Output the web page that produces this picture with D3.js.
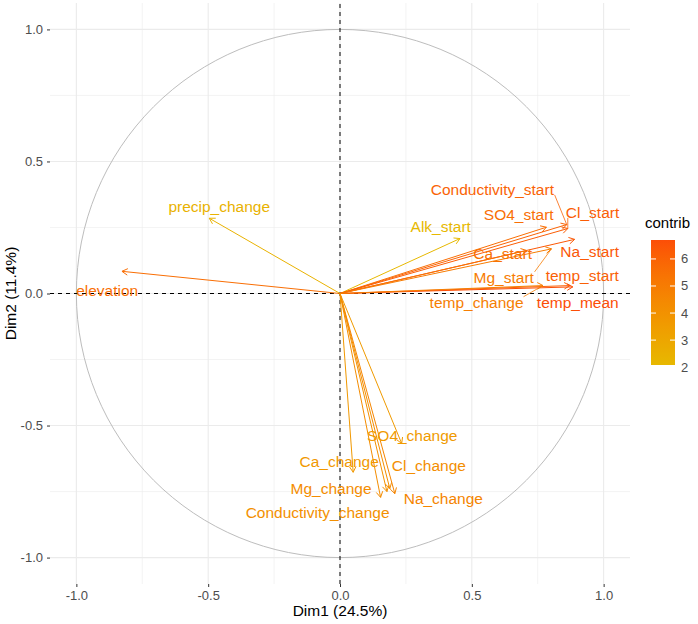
<!DOCTYPE html>
<html>
<head>
<meta charset="utf-8">
<script src="https://cdn.jsdelivr.net/npm/d3@7"></script>
<style>
  body { margin: 0; background: #fff; }
  text { font-family: "Liberation Sans", Arial, sans-serif; }
</style>
</head>
<body>
<div id="chart"></div>
<script>
// variable names, coordinates on Dim1/Dim2 and contribution
const varNames = ["elevation", "precip_change", "Alk_start", "Conductivity_start", "SO4_start",
  "Cl_start", "Na_start", "Ca_start", "Mg_start", "temp_start", "temp_mean", "temp_change",
  "SO4_change", "Ca_change", "Cl_change", "Mg_change", "Na_change", "Conductivity_change"];
const dim1 = [-0.827, -0.496, 0.455, 0.860, 0.783, 0.864, 0.890, 0.708, 0.802, 0.872, 0.883, 0.770,
  0.234, 0.050, 0.189, 0.154, 0.208, 0.178];
const dim2 = [0.084, 0.285, 0.208, 0.261, 0.251, 0.246, 0.205, 0.163, 0.169, 0.030, 0.025, 0.030,
  -0.568, -0.677, -0.739, -0.772, -0.758, -0.750];
const contrib = [5.6, 2.4, 2.08, 6.0, 5.6, 6.2, 6.4, 5.4, 5.0, 6.1, 6.7, 4.9,
  3.6, 3.7, 4.2, 4.3, 4.6, 4.1];
// label positions after repel (in Dim units)
const labelX = [-0.883, -0.458, 0.382, 0.578, 0.678, 0.958, 0.947, 0.617, 0.621, 0.919, 0.902, 0.518,
  0.274, -0.003, 0.337, -0.034, 0.392, -0.085];
const labelY = [0.011, 0.331, 0.255, 0.394, 0.299, 0.307, 0.159, 0.152, 0.061, 0.068, -0.033, -0.033,
  -0.537, -0.636, -0.653, -0.739, -0.777, -0.830];
const withSegment = ["Conductivity_start", "Cl_start", "Mg_start", "temp_change"];

const majorTicks = [-1, -0.5, 0, 0.5, 1];
const minorTicks = [-0.75, -0.25, 0.25, 0.75];
const legendBreaks = [2, 3, 4, 5, 6];

const width = 698, height = 624;
const svg = d3.select("#chart").append("svg")
  .attr("width", width).attr("height", height);

const x = d3.scaleLinear().domain([-1.1, 1.1]).range([50, 630]);
const y = d3.scaleLinear().domain([-1.1, 1.1]).range([584, 3]);
const color = d3.scaleLinear()
  .domain(d3.extent(contrib))
  .range(["#E7B800", "#FC4E07"])
  .interpolate(d3.interpolateLab);

// grid
const grid = svg.append("g");
grid.selectAll(".vmin").data(minorTicks).join("line")
  .attr("x1", d => x(d)).attr("x2", d => x(d)).attr("y1", y.range()[0]).attr("y2", y.range()[1])
  .attr("stroke", "#EBEBEB").attr("stroke-width", 0.6);
grid.selectAll(".hmin").data(minorTicks).join("line")
  .attr("y1", d => y(d)).attr("y2", d => y(d)).attr("x1", x.range()[0]).attr("x2", x.range()[1])
  .attr("stroke", "#EBEBEB").attr("stroke-width", 0.6);
grid.selectAll(".vmaj").data(majorTicks).join("line")
  .attr("x1", d => x(d)).attr("x2", d => x(d)).attr("y1", y.range()[0]).attr("y2", y.range()[1])
  .attr("stroke", "#EBEBEB").attr("stroke-width", 1.1);
grid.selectAll(".hmaj").data(majorTicks).join("line")
  .attr("y1", d => y(d)).attr("y2", d => y(d)).attr("x1", x.range()[0]).attr("x2", x.range()[1])
  .attr("stroke", "#EBEBEB").attr("stroke-width", 1.1);

// axes
const fmt = d => d.toFixed(1);
const xAxis = svg.append("g").attr("transform", `translate(0,${y.range()[0]})`)
  .call(d3.axisBottom(x).tickValues(majorTicks).tickFormat(fmt).tickSize(3).tickPadding(4));
const yAxis = svg.append("g").attr("transform", `translate(${x.range()[0]},0)`)
  .call(d3.axisLeft(y).tickValues(majorTicks).tickFormat(fmt).tickSize(3).tickPadding(4));
[xAxis, yAxis].forEach(a => {
  a.select(".domain").remove();
  a.selectAll(".tick line").attr("stroke", "#333333");
  a.selectAll(".tick text").attr("fill", "#4D4D4D")
    .style("font-size", "13px").style("font-family", "'Liberation Sans', Arial, sans-serif");
});

svg.append("text").attr("x", x(0)).attr("y", 616).attr("text-anchor", "middle")
  .style("font-size", "15.5px").attr("fill", "#000").text("Dim1 (24.5%)");
svg.append("text").attr("transform", `translate(16,${y(0)}) rotate(-90)`)
  .attr("text-anchor", "middle").style("font-size", "15.5px").attr("fill", "#000")
  .text("Dim2 (11.4%)");

// correlation circle
svg.append("ellipse")
  .attr("cx", x(0)).attr("cy", y(0))
  .attr("rx", x(1) - x(0)).attr("ry", y(0) - y(1))
  .attr("fill", "none").attr("stroke", "#BDBDBD").attr("stroke-width", 1);

// reference lines
svg.append("line").attr("x1", x.range()[0]).attr("x2", x.range()[1])
  .attr("y1", y(0)).attr("y2", y(0))
  .attr("stroke", "#000").attr("stroke-width", 1).attr("stroke-dasharray", "4,4");
svg.append("line").attr("y1", y.range()[0]).attr("y2", y.range()[1])
  .attr("x1", x(0)).attr("x2", x(0))
  .attr("stroke", "#000").attr("stroke-width", 1).attr("stroke-dasharray", "4,4");

const vars = varNames.map((name, i) => ({
  name, x: dim1[i], y: dim2[i], contrib: contrib[i], lx: labelX[i], ly: labelY[i]
}));

// arrows
const arrows = svg.append("g");
vars.forEach(d => {
  const x0 = x(0), y0 = y(0), x1 = x(d.x), y1 = y(d.y);
  const ang = Math.atan2(y1 - y0, x1 - x0);
  const len = 6.5, spread = Math.PI / 6;
  const c = color(d.contrib);
  arrows.append("line")
    .attr("x1", x0).attr("y1", y0).attr("x2", x1).attr("y2", y1)
    .attr("stroke", c).attr("stroke-width", 1);
  arrows.append("path")
    .attr("d", `M${x1 - len * Math.cos(ang - spread)},${y1 - len * Math.sin(ang - spread)}L${x1},${y1}L${x1 - len * Math.cos(ang + spread)},${y1 - len * Math.sin(ang + spread)}`)
    .attr("fill", "none").attr("stroke", c).attr("stroke-width", 1);
});

// labels
const labels = svg.append("g");
vars.forEach(d => {
  const c = color(d.contrib);
  const t = labels.append("text")
    .attr("x", x(d.lx)).attr("y", y(d.ly))
    .attr("text-anchor", "middle").attr("dominant-baseline", "central")
    .style("font-size", "15.5px").attr("fill", c).text(d.name);
  if (withSegment.includes(d.name)) {
    const b = t.node().getBBox();
    const px = x(d.x), py = y(d.y);
    const cx = Math.max(b.x, Math.min(px, b.x + b.width));
    const cy = Math.max(b.y + 3, Math.min(py, b.y + b.height - 3));
    labels.append("line").attr("x1", cx).attr("y1", cy).attr("x2", px).attr("y2", py)
      .attr("stroke", c).attr("stroke-width", 0.8);
  }
});

// legend
const lg = svg.append("g");
const ext = d3.extent(contrib);
const barTop = 240, barBottom = 365, barX = 651, barW = 24;
const ly = d3.scaleLinear().domain(ext).range([barBottom, barTop]);
const grad = svg.append("defs").append("linearGradient")
  .attr("id", "contribGrad").attr("x1", 0).attr("y1", 1).attr("x2", 0).attr("y2", 0);
d3.range(0, 1.0001, 0.1).forEach(t => {
  grad.append("stop").attr("offset", t).attr("stop-color", color(ext[0] + t * (ext[1] - ext[0])));
});
lg.append("text").attr("x", 645).attr("y", 228).style("font-size", "15px").attr("fill", "#000")
  .text("contrib");
lg.append("rect").attr("x", barX).attr("y", barTop).attr("width", barW)
  .attr("height", barBottom - barTop).attr("fill", "url(#contribGrad)");
legendBreaks.filter(v => v >= ext[0] && v <= ext[1]).forEach(v => {
  lg.append("line").attr("x1", barX).attr("x2", barX + 5).attr("y1", ly(v)).attr("y2", ly(v))
    .attr("stroke", "#fff").attr("stroke-width", 1);
  lg.append("line").attr("x1", barX + barW - 5).attr("x2", barX + barW).attr("y1", ly(v)).attr("y2", ly(v))
    .attr("stroke", "#fff").attr("stroke-width", 1);
});
legendBreaks.forEach(v => {
  lg.append("text").attr("x", 681).attr("y", ly(v)).attr("dominant-baseline", "central")
    .style("font-size", "13px").attr("fill", "#4D4D4D").text(v);
});
</script>
</body>
</html>
